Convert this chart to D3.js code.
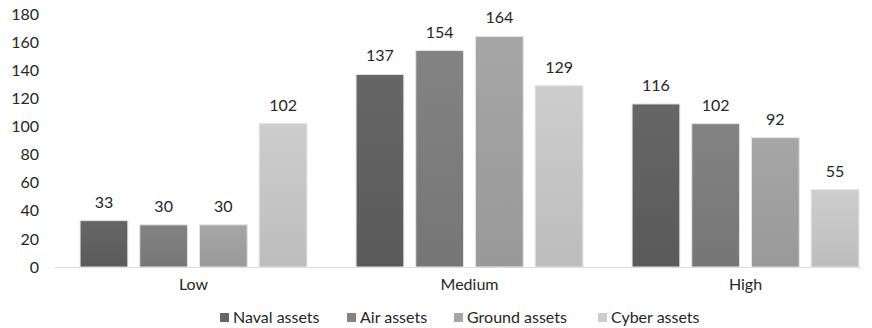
<!DOCTYPE html>
<html>
<head>
<meta charset="utf-8">
<script src="https://cdn.jsdelivr.net/npm/d3@7"></script>
<style>
  html, body { margin: 0; padding: 0; background: #fff; }
  svg { display: block; font-family: Lato, "Open Sans", sans-serif; }
</style>
</head>
<body>
<svg id="chart" width="872" height="328"></svg>
<script>
const categories = ["Low", "Medium", "High"];
const seriesNames = ["Naval assets", "Air assets", "Ground assets", "Cyber assets"];
const naval = [33, 137, 116];
const air = [30, 154, 102];
const ground = [30, 164, 92];
const cyber = [102, 129, 55];
const yTicks = [0, 20, 40, 60, 80, 100, 120, 140, 160, 180];

const seriesValues = [naval, air, ground, cyber];
const topColors = ["#666666", "#838383", "#a6a6a6", "#cdcdcd"];
const botColors = ["#5a5a5a", "#767676", "#999999", "#bdbdbd"];

const svg = d3.select("#chart");
const textColor = "#262626";
const fontSize = "16px";

const y = d3.scaleLinear().domain([0, 180]).range([267, 14]);
const x0 = d3.scaleBand().domain(categories).range([55.5, 883.5]).paddingInner(0.178).paddingOuter(0.089);
const x1 = d3.scaleBand().domain(seriesNames).range([0, x0.bandwidth()]).paddingInner(0.2).paddingOuter(0);

const defs = svg.append("defs");
seriesNames.forEach((s, i) => {
  const g = defs.append("linearGradient").attr("id", "grad" + i)
    .attr("x1", 0).attr("y1", 0).attr("x2", 0).attr("y2", 1);
  g.append("stop").attr("offset", "0%").attr("stop-color", topColors[i]);
  g.append("stop").attr("offset", "100%").attr("stop-color", botColors[i]);
});

// y-axis tick labels
const yAxis = d3.axisLeft(y).tickValues(yTicks).tickSize(0).tickPadding(0);
const ya = svg.append("g").attr("transform", "translate(39,0)").call(yAxis);
ya.select(".domain").remove();
ya.selectAll("text").attr("font-size", fontSize).attr("fill", textColor).attr("font-family", "Lato, sans-serif");

// baseline
svg.append("line").attr("x1", 55).attr("x2", 861).attr("y1", y(0) + 0.5).attr("y2", y(0) + 0.5)
  .attr("stroke", "#d9d9d9").attr("stroke-width", 1);

// bars
const groups = svg.append("g").selectAll("g").data(categories).join("g")
  .attr("transform", d => `translate(${x0(d)},0)`);

groups.each(function(cat, ci) {
  const g = d3.select(this);
  seriesNames.forEach((s, si) => {
    const v = seriesValues[si][ci];
    g.append("rect")
      .attr("x", x1(s))
      .attr("y", y(v))
      .attr("width", x1.bandwidth())
      .attr("height", y(0) - y(v))
      .attr("fill", `url(#grad${si})`)
      .attr("stroke", "#e4e4e4")
      .attr("stroke-width", 1);
    g.append("text")
      .attr("x", x1(s) + x1.bandwidth() / 2)
      .attr("y", y(v) - 13)
      .attr("text-anchor", "middle")
      .attr("font-size", fontSize)
      .attr("fill", textColor)
      .text(v);
  });
});

// x axis labels
const xAxis = d3.axisBottom(x0).tickSize(0).tickPadding(0);
const xa = svg.append("g").attr("transform", `translate(0,${y(0) + 9})`).call(xAxis);
xa.select(".domain").remove();
xa.selectAll("text").attr("font-size", fontSize).attr("fill", textColor).attr("font-family", "Lato, sans-serif")
  .attr("dy", "0.9em");

// legend
const legendX = [220, 347, 454, 598];
const lg = svg.append("g").selectAll("g").data(seriesNames).join("g")
  .attr("transform", (d, i) => `translate(${legendX[i]},313)`);
lg.append("rect").attr("width", 9).attr("height", 9).attr("fill", (d, i) => topColors[i]);
lg.append("text").attr("x", 13).attr("y", 4.5).attr("dy", "0.35em")
  .attr("font-size", fontSize).attr("fill", textColor).text(d => d);
</script>
</body>
</html>
